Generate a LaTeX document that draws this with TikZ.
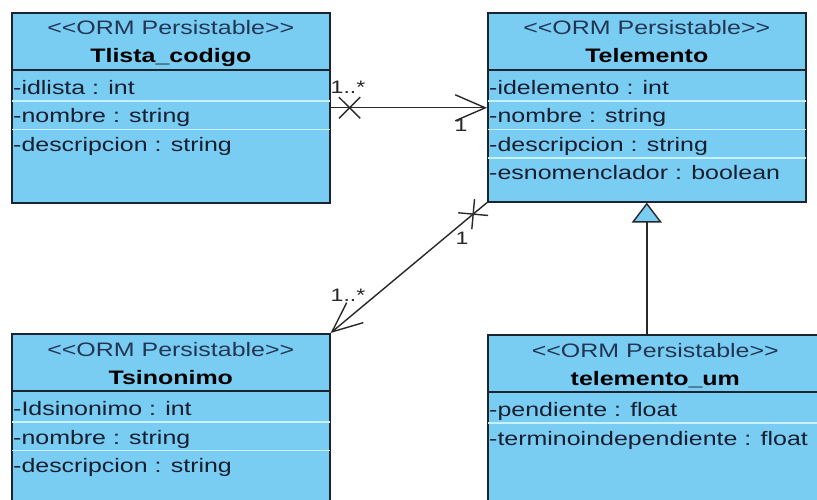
\documentclass[tikz,border=0pt]{standalone}
\usepackage{fontspec}
\setmainfont{Liberation Sans}[FakeStretch=1.28]
\usetikzlibrary{calc,arrows.meta}

\definecolor{boxfill}{RGB}{122,205,242}
\definecolor{rowline}{RGB}{200,240,253}
\definecolor{edge}{RGB}{28,36,48}
\definecolor{stereoink}{RGB}{34,54,84}
\definecolor{attrink}{RGB}{22,30,48}
\definecolor{wireink}{RGB}{40,40,40}

\tikzset{
  classbox/.style={draw=edge, line width=1.6pt, fill=boxfill, inner sep=0pt, anchor=north west},
  stereo/.style={text=stereoink, font=\fontsize{19.5}{23}\selectfont, inner sep=0pt, anchor=base},
  clsname/.style={text=black, font=\fontsize{19.5}{23}\selectfont\bfseries, inner sep=0pt, anchor=base},
  attr/.style={text=attrink, font=\fontsize{19.5}{23}\selectfont, inner sep=0pt, anchor=base west},
  hdrline/.style={draw=edge, line width=1.6pt},
  sepline/.style={draw=rowline, line width=1.5pt},
  wire/.style={draw=wireink, line width=1.4pt},
  mult/.style={text=wireink, font=\fontsize{18}{21}\selectfont, inner sep=0pt},
}

% #1 node name, #2 top-left corner, #3 width, #4 height, #5 class name, #6 attributes
\newcommand{\ormclass}[6]{%
  \node[classbox, minimum width=#3pt, minimum height=#4pt] (#1) at (#2) {};
  \draw[hdrline] ($(#1.north west)+(0,58)$) -- ($(#1.north east)+(0,58)$);
  \node[stereo] (#1-st) at ($(#1.north)+(0,23)$) {<\kern0pt<ORM Persistable>\kern0pt>};
  \node[clsname] (#1-nm) at ($(#1.north)+(0,51)$) {#5};
  \foreach \a [count=\i] in {#6} {
    \ifnum\i>1
      \draw[sepline] ($(#1.north west)+(1,32+28.5*\i)$) -- ($(#1.north east)+(-1,32+28.5*\i)$);
    \fi
    \node[attr] (#1-a\i) at ($(#1.north west)+(2,54+28.5*\i)$) {\a};
  }
}

\begin{document}
\begin{tikzpicture}[x=1pt,y=-1pt]
  \useasboundingbox (0,0) rectangle (817,500);
  \clip (0,0) rectangle (817,500);
  \fill[white] (0,0) rectangle (817,500);

  \ormclass{lista}{11,12}{318}{190}{Tlista\_codigo}{-idlista : int, -nombre : string, -descripcion : string}
  \ormclass{elem}{487,12}{318}{189}{Telemento}{-idelemento : int, -nombre : string, -descripcion : string, -esnomenclador : boolean}
  \ormclass{syn}{11,333}{318}{180}{Tsinonimo}{-Idsinonimo : int, -nombre : string, -descripcion : string}
  \ormclass{um}{487,334}{335}{180}{telemento\_um}{-pendiente : float, -terminoindependiente : float}

  % Tlista_codigo -> Telemento
  \draw[wire, -{Straight Barb[length=30pt,width=26pt]}] (lista.east) -- (lista.east -| elem.west);
  \coordinate (ax1) at ($(lista.east)!19pt!(lista.east -| elem.west)$);
  \draw[wire] ($(ax1)!15pt!45:(elem.west)$) -- ($(ax1)!15pt!225:(elem.west)$);
  \draw[wire] ($(ax1)!15pt!-45:(elem.west)$) -- ($(ax1)!15pt!135:(elem.west)$);
  \node[mult] (m1a) at (348,87) {1..*};
  \node[mult] (m1b) at (461,125) {1};

  % Telemento -> Tsinonimo
  \draw[wire, -{Straight Barb[length=30pt,width=26pt]}] (elem.south west) -- (syn.north east);
  \coordinate (ax2) at ($(elem.south west)!18pt!(syn.north east)$);
  \draw[wire] ($(ax2)!15pt!45:(syn.north east)$) -- ($(ax2)!15pt!225:(syn.north east)$);
  \draw[wire] ($(ax2)!15pt!-45:(syn.north east)$) -- ($(ax2)!15pt!135:(syn.north east)$);
  \node[mult] (m2a) at (462,238) {1};
  \node[mult] (m2b) at (348,295) {1..*};

  % generalization telemento_um -> Telemento
  \draw[wire, {Triangle[length=20pt,width=30pt,fill=boxfill]}-] (elem.south) -- (elem.south |- um.north);
\end{tikzpicture}
\end{document}
